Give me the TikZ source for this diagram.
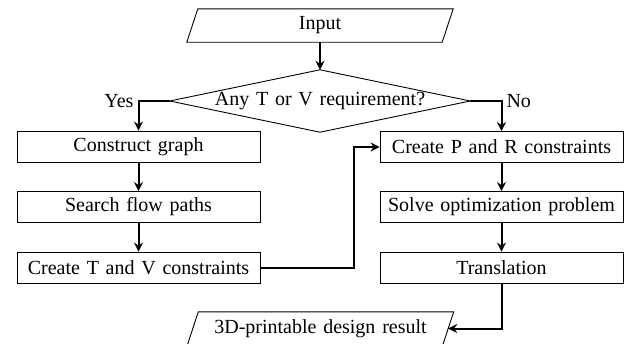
\documentclass[tikz,border=0pt]{standalone}
\usepackage{fontspec}
\setmainfont{Liberation Serif}[WordSpace={1.35}]
\usetikzlibrary{arrows.meta,calc}
\begin{document}
\begin{tikzpicture}[x=1pt,y=-1pt,
  lbl/.style={font=\fontsize{20}{23}\selectfont},
  shapeline/.style={line width=0.9pt},
  procbox/.style={draw, shapeline, minimum width=243pt, minimum height=31pt, inner sep=0pt, lbl},
  iobox/.style={minimum width=255pt, minimum height=33pt, inner sep=0pt, lbl},
  flow/.style={line width=2pt, -{Stealth[length=9pt,width=9pt,inset=3pt]}},
]
\useasboundingbox (0,0) rectangle (631,343);

% input / output parallelograms
\node[iobox] (in) at (320,25.5) {Input};
\draw[shapeline] ($(in.north west)+(5.5,0)$) -- ($(in.north east)+(5.5,0)$)
  -- ($(in.south east)+(-5.5,0)$) -- ($(in.south west)+(-5.5,0)$) -- cycle;

\node[iobox] (out) at (320.5,328.5) {3D-printable design result};
\draw[shapeline] ($(out.north west)+(5.5,0)$) -- ($(out.north east)+(5.5,0)$)
  -- ($(out.south east)+(-5.5,0)$) -- ($(out.south west)+(-5.5,0)$) -- cycle;

% decision
\node[minimum width=300pt, minimum height=62pt, inner sep=0pt, lbl] (dec) at (320,101) {Any T or V requirement?};
\draw[shapeline] (dec.north) -- (dec.east) -- (dec.south) -- (dec.west) -- cycle;

% left branch
\node[procbox] (cg) at (138.5,146.5) {Construct graph};
\node[procbox] (sf) at (138.5,207) {Search flow paths};
\node[procbox] (tv) at (138.5,267.5) {Create T and V constraints};

% right branch
\node[procbox] (pr) at (501.5,147) {Create P and R constraints};
\node[procbox] (so) at (501.5,207) {Solve optimization problem};
\node[procbox] (tr) at (501.5,267.5) {Translation};

\coordinate (bend) at (354,267.5);

% connectors
\draw[flow] (in.south) -- (dec.north);
\draw[flow] (dec.west) -| node[pos=0.5, left, inner sep=4pt, lbl] {Yes} (cg.north);
\draw[flow] (dec.east) -| node[pos=0.5, right, inner sep=4pt, lbl] {No} (pr.north);
\draw[flow] (cg) -- (sf);
\draw[flow] (sf) -- (tv);
\draw[flow] (pr) -- (so);
\draw[flow] (so) -- (tr);
\draw[flow] (tv.east) -- (bend) |- (pr.west);
\draw[flow] (tr.south) |- (out.east);
\end{tikzpicture}
\end{document}
